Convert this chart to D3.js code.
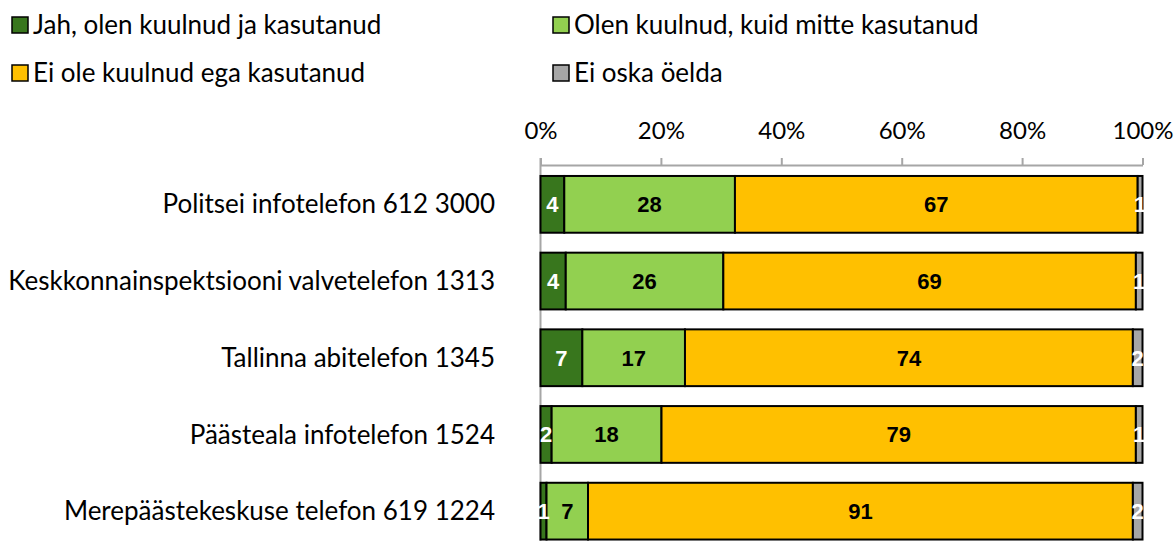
<!DOCTYPE html>
<html><head><meta charset="utf-8">
<script src="https://cdn.jsdelivr.net/npm/d3@7"></script>
<style>body{margin:0;background:#fff}svg{display:block}</style>
</head><body>
<script>
const categories = ["Politsei infotelefon 612 3000","Keskkonnainspektsiooni valvetelefon 1313","Tallinna abitelefon 1345","Päästeala infotelefon 1524","Merepäästekeskuse telefon 619 1224"];
const seriesNames = ["Jah, olen kuulnud ja kasutanud","Olen kuulnud, kuid mitte kasutanud","Ei ole kuulnud ega kasutanud","Ei oska öelda"];
const heardUsed = [3.95, 4.2, 6.95, 1.85, 1.0];
const heardNotUsed = [28.35, 26.2, 17.05, 18.25, 6.9];
const notHeard = [66.9, 68.6, 74.4, 78.8, 90.6];
const dontKnow = [0.8, 1.1, 1.6, 1.1, 1.6];
const tickValues = [0,20,40,60,80,100];
const colors = ["#38761D","#92D050","#FFC000","#A6A6A6"];
const labelColors = ["#fff","#000","#000","#fff"];

const W=1175,H=541;
const FONT="Lato, 'Open Sans', sans-serif";
const svg=d3.select("body").append("svg").attr("width",W).attr("height",H);
const keys=["a","b","c","d"];
const rows=categories.map((c,i)=>({cat:c,a:heardUsed[i],b:heardNotUsed[i],c:notHeard[i],d:dontKnow[i]}));
rows.forEach(r=>{const s=r.a+r.b+r.c+r.d;keys.forEach(k=>r[k]=r[k]/s*100);});
const rawVals=[heardUsed,heardNotUsed,notHeard,dontKnow];
const stack=d3.stack().keys(keys)(rows);

const x=d3.scaleLinear().domain([0,100]).range([540.5,1142.5]);
const y=d3.scaleBand().domain(categories).range([166,549.5]).paddingInner(0.26).paddingOuter(0.13);

// axis
const axisG=svg.append("g").attr("transform","translate(0,165)")
  .call(d3.axisTop(x).tickValues(tickValues).tickFormat(d=>d+"%").tickSize(7).tickSizeOuter(0));
axisG.select(".domain").attr("stroke","#a6a6a6").attr("stroke-width",2);
axisG.selectAll(".tick line").attr("stroke","#a6a6a6").attr("stroke-width",2);
axisG.selectAll(".tick text").attr("font-family",FONT).attr("font-size",24).attr("fill","#000").attr("dy","0").attr("y",-26);
// vertical axis line
svg.append("line").attr("x1",x(0)).attr("x2",x(0)).attr("y1",158).attr("y2",H).attr("stroke","#a6a6a6").attr("stroke-width",2);

// bars
const g=svg.append("g");
stack.forEach((layer,si)=>{
  g.append("g").selectAll("rect").data(layer).join("rect")
    .attr("x",d=>x(d[0])).attr("width",d=>x(d[1])-x(d[0]))
    .attr("y",d=>y(d.data.cat)).attr("height",y.bandwidth())
    .attr("fill",colors[si]).attr("stroke","#000").attr("stroke-width",2);
});
stack.forEach((layer,si)=>{
  g.append("g").selectAll("text").data(layer).join("text")
    .attr("x",d=>(x(d[0])+x(d[1]))/2).attr("y",d=>y(d.data.cat)+y.bandwidth()/2)
    .attr("dy","0.36em").attr("text-anchor","middle")
    .attr("font-family","'Liberation Sans', Arial, sans-serif").attr("font-weight","bold").attr("font-size",22)
    .attr("fill",labelColors[si])
    .text((d,i)=>Math.round(rawVals[si][i]));
});

// category labels
svg.append("g").selectAll("text").data(categories).join("text")
  .attr("x",495).attr("y",d=>y(d)+y.bandwidth()/2).attr("dy","0.35em").attr("text-anchor","end")
  .attr("font-family",FONT).attr("font-size",26).attr("fill","#000").text(d=>d);

// legend
const legPos=[[12,25],[553,25],[12,73],[553,73]];
seriesNames.forEach((n,i)=>{
  const [lx,ly]=legPos[i];
  svg.append("rect").attr("x",lx).attr("y",ly-8).attr("width",16).attr("height",16)
    .attr("fill",colors[i]).attr("stroke","#000").attr("stroke-width",1.5);
  svg.append("text").attr("x",lx+21).attr("y",ly).attr("dy","0.35em")
    .attr("font-family",FONT).attr("font-size",26).attr("fill","#000").text(n);
});
</script>
</body></html>
